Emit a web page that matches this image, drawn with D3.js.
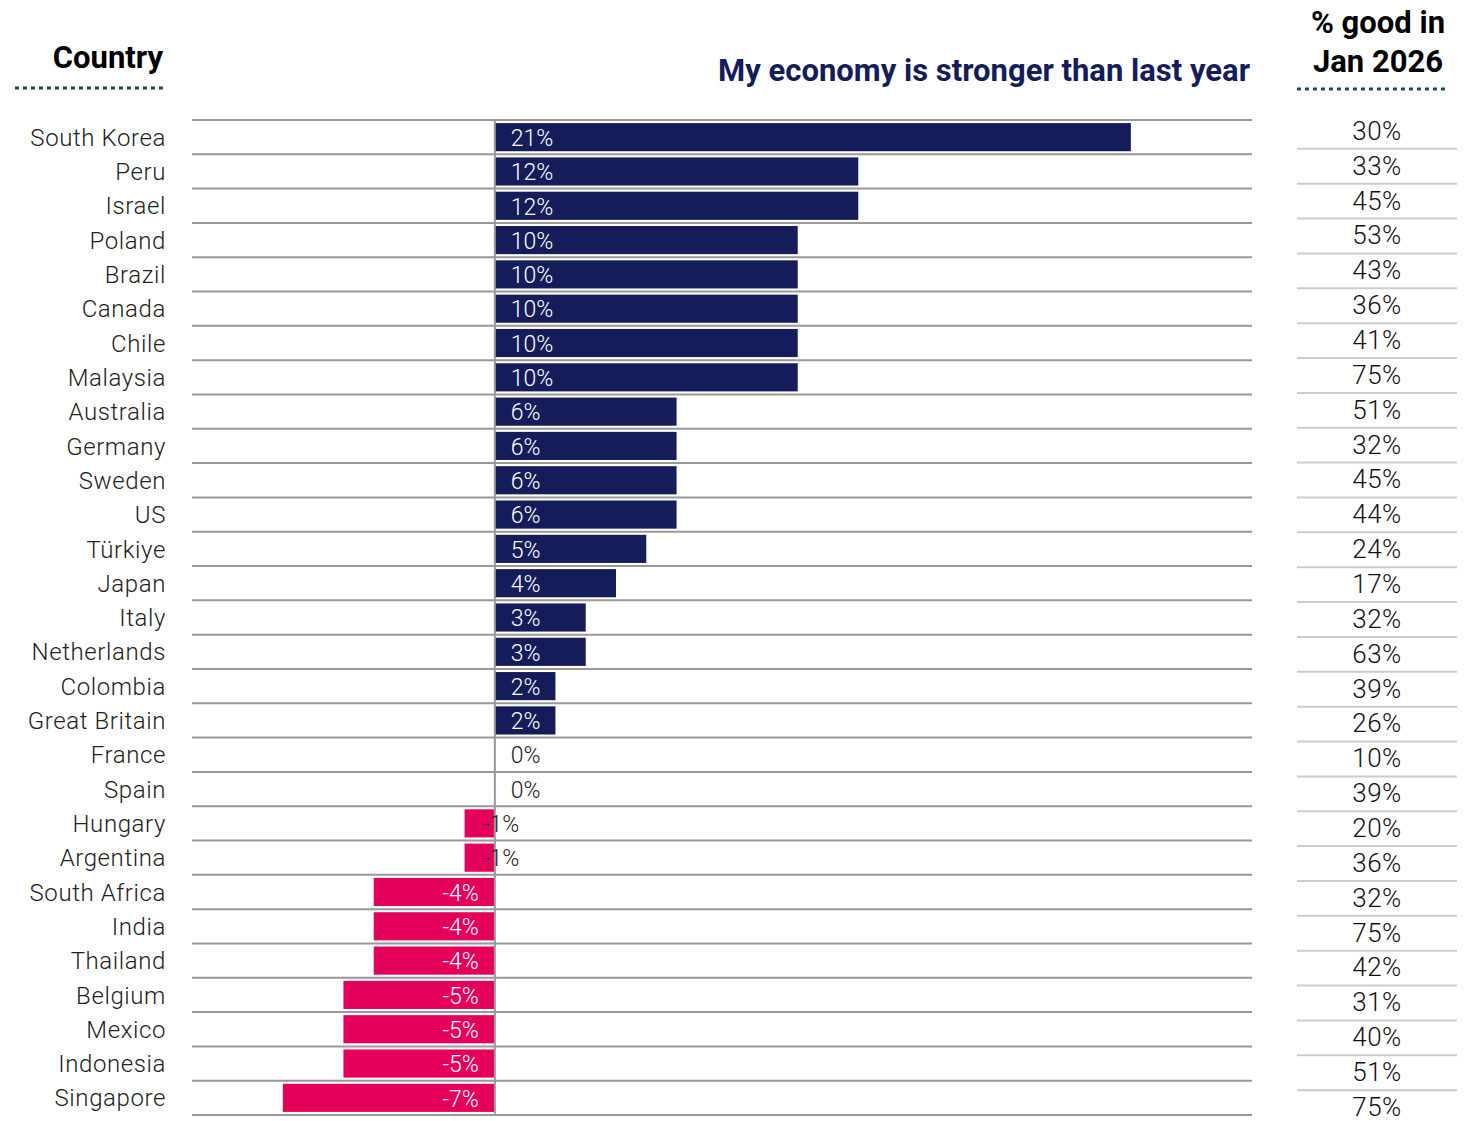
<!DOCTYPE html>
<html lang="en">
<head>
<meta charset="utf-8"/>
<script src="https://d3js.org/d3.v7.min.js"></script>
<style>
  body { margin: 0; background: #fff; }
  text { font-family: Roboto, "Noto Sans", sans-serif; }
</style>
</head>
<body>
<div id="chart"></div>
<script>
// rows, top to bottom
var countries = ["South Korea", "Peru", "Israel", "Poland", "Brazil", "Canada", "Chile", "Malaysia",
  "Australia", "Germany", "Sweden", "US", "Türkiye", "Japan", "Italy", "Netherlands", "Colombia",
  "Great Britain", "France", "Spain", "Hungary", "Argentina", "South Africa", "India", "Thailand",
  "Belgium", "Mexico", "Indonesia", "Singapore"];
var stronger = [21, 12, 12, 10, 10, 10, 10, 10, 6, 6, 6, 6, 5, 4, 3, 3, 2, 2, 0, 0, -1, -1, -4, -4, -4, -5, -5, -5, -7];
var goodJan = [30, 33, 45, 53, 43, 36, 41, 75, 51, 32, 45, 44, 24, 17, 32, 63, 39, 26, 10, 39, 20, 36, 32, 75, 42, 31, 40, 51, 75];

var W = 1464, H = 1121;
var navy = "#141c5a", pink = "#e4005a", grid = "#999";

var svg = d3.select("#chart").append("svg")
  .attr("width", W).attr("height", H);

var x = d3.scaleLinear().domain([-10, 25]).range([192, 1252]);
var y = d3.scaleBand().domain(countries).range([120, 1115]).paddingInner(0.18).paddingOuter(0.09);
var yr = d3.scaleBand().domain(countries).range([113, 1124]);

// headers
svg.append("text").attr("x", 163).attr("y", 68).attr("text-anchor", "end")
  .attr("font-size", 31).attr("font-weight", 700).attr("fill", "#000").text("Country");
svg.append("line").attr("x1", 15).attr("x2", 163).attr("y1", 88).attr("y2", 88)
  .attr("stroke", "#1a4a5c").attr("stroke-width", 3).attr("stroke-dasharray", "4,4");

svg.append("text").attr("x", 1250).attr("y", 81).attr("text-anchor", "end")
  .attr("font-size", 31).attr("font-weight", 700).attr("fill", navy)
  .text("My economy is stronger than last year");

svg.append("text").attr("x", 1378).attr("y", 33).attr("text-anchor", "middle")
  .attr("font-size", 31).attr("font-weight", 700).attr("fill", "#000").text("% good in");
svg.append("text").attr("x", 1378).attr("y", 72).attr("text-anchor", "middle")
  .attr("font-size", 31).attr("font-weight", 700).attr("fill", "#000").text("Jan 2026");
svg.append("line").attr("x1", 1297).attr("x2", 1445).attr("y1", 89).attr("y2", 89)
  .attr("stroke", "#1a4a5c").attr("stroke-width", 3).attr("stroke-dasharray", "4,4");

// row separators
var bounds = countries.map(function(c) { return y(c) - y.step() * y.paddingInner() / 2; });
bounds.push(1115);
svg.selectAll("line.row").data(bounds).enter().append("line")
  .attr("class", "row")
  .attr("x1", x.range()[0]).attr("x2", x.range()[1])
  .attr("y1", function(d) { return d; }).attr("y2", function(d) { return d; })
  .attr("stroke", grid).attr("stroke-width", 2);

// country labels
svg.selectAll("text.country").data(countries).enter().append("text")
  .attr("class", "country")
  .attr("x", 166)
  .attr("y", function(d) { return y(d) + y.bandwidth() / 2; })
  .attr("dy", "0.36em")
  .attr("text-anchor", "end")
  .attr("font-size", 24).attr("font-weight", 300).attr("letter-spacing", 0.6).attr("fill", "#222")
  .text(function(d) { return d; });

// bars
var rows = countries.map(function(c, i) { return { c: c, v: stronger[i], g: goodJan[i] }; });

svg.selectAll("rect.bar").data(rows).enter().append("rect")
  .attr("class", "bar")
  .attr("x", function(d) { return x(Math.min(0, d.v)); })
  .attr("y", function(d) { return y(d.c); })
  .attr("width", function(d) { return Math.abs(x(d.v) - x(0)); })
  .attr("height", y.bandwidth())
  .attr("fill", function(d) { return d.v < 0 ? pink : navy; });

// zero line
svg.append("line").attr("x1", x(0)).attr("x2", x(0)).attr("y1", 120).attr("y2", 1115)
  .attr("stroke", grid).attr("stroke-width", 2);

// bar labels
svg.selectAll("text.val").data(rows).enter().append("text")
  .attr("class", "val")
  .attr("x", function(d) {
    if (d.v >= 0) return x(0) + 16;
    if (d.v <= -2) return x(0) - 16;
    return x(0) - 12;
  })
  .attr("y", function(d) { return y(d.c) + y.bandwidth() / 2; })
  .attr("dy", "0.38em")
  .attr("text-anchor", function(d) { return d.v <= -2 ? "end" : "start"; })
  .attr("font-size", 23).attr("font-weight", 300)
  .attr("fill", function(d) { return (d.v > 0 || d.v <= -2) ? "#fff" : "#222"; })
  .text(function(d) { return d.v + "%"; });

// right column
svg.selectAll("line.rrow").data(countries.slice(1)).enter().append("line")
  .attr("class", "rrow")
  .attr("x1", 1297).attr("x2", 1457)
  .attr("y1", function(d) { return yr(d) + 1; }).attr("y2", function(d) { return yr(d) + 1; })
  .attr("stroke", "#ccc").attr("stroke-width", 2);

svg.selectAll("text.good").data(rows).enter().append("text")
  .attr("class", "good")
  .attr("x", 1377)
  .attr("y", function(d) { return yr(d.c) + yr.bandwidth() / 2; })
  .attr("dy", "0.36em")
  .attr("text-anchor", "middle")
  .attr("font-size", 26).attr("font-weight", 300).attr("letter-spacing", 0.5).attr("fill", "#111")
  .text(function(d) { return d.g + "%"; });
</script>
</body>
</html>
